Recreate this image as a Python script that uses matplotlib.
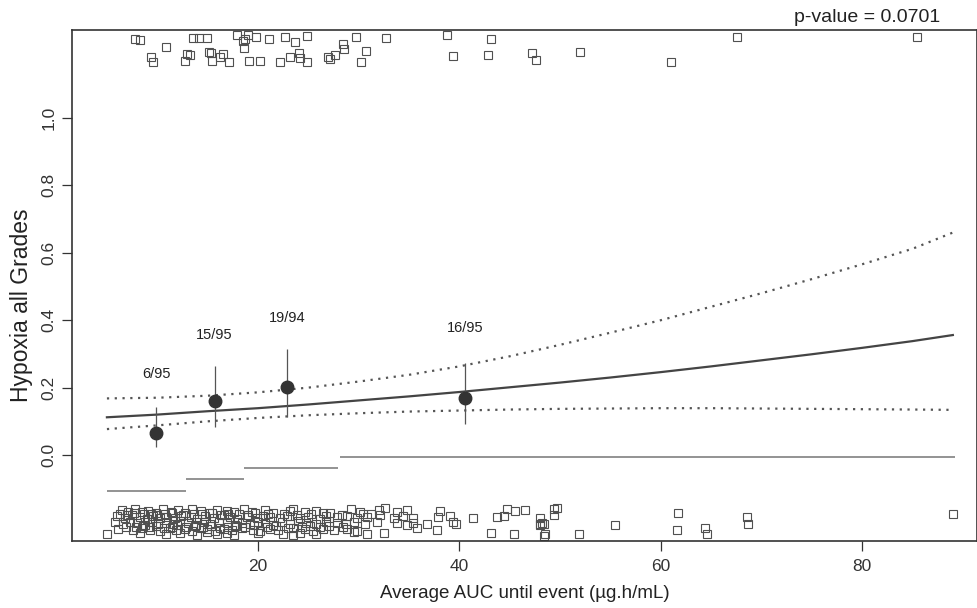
import matplotlib
matplotlib.use("Agg")
import matplotlib.pyplot as plt

plt.rcParams['font.family'] = ['Liberation Sans', 'DejaVu Sans']

# fitted logistic curve and its confidence band
curve_x = [5, 10, 15, 20, 25, 30, 35, 40, 45, 50, 55, 60, 65, 70, 75, 80, 85, 89]
fit_p = [0.112, 0.120, 0.130, 0.139, 0.150, 0.162, 0.174, 0.187, 0.201, 0.215,
         0.230, 0.246, 0.263, 0.281, 0.299, 0.318, 0.338, 0.356]
upper_p = [0.168, 0.170, 0.176, 0.186, 0.200, 0.218, 0.238, 0.263, 0.293, 0.327,
           0.363, 0.400, 0.440, 0.480, 0.522, 0.566, 0.612, 0.660]
lower_p = [0.077, 0.088, 0.100, 0.110, 0.118, 0.124, 0.129, 0.132, 0.135, 0.137,
           0.138, 0.139, 0.139, 0.138, 0.137, 0.136, 0.135, 0.134]

# observed proportion per quartile
bin_x = [9.9, 15.7, 22.9, 40.6]
bin_p = [0.066, 0.160, 0.203, 0.169]
bin_lo = [0.024, 0.083, 0.113, 0.092]
bin_hi = [0.142, 0.264, 0.315, 0.273]
bin_text = ["6/95", "15/95", "19/94", "16/95"]
label_y = [0.240, 0.356, 0.407, 0.377]

# quartile ranges
seg_start = [5.0, 12.9, 18.6, 28.1]
seg_end = [12.9, 18.6, 27.9, 89.2]
seg_y = [-0.107, -0.072, -0.039, -0.006]

# patients with event (jittered at top)
event_x = [7.8, 8.3, 10.9, 9.4, 9.6, 13.5, 14.1, 14.9, 13.0, 13.2, 12.8, 15.1, 15.3,
           15.4, 16.2, 16.5, 17.1, 17.9, 18.5, 19.0, 18.7, 19.8, 18.6, 21.1, 22.7,
           23.7, 24.9, 19.1, 20.2, 22.2, 23.2, 24.1, 24.2, 24.9, 27.0, 27.2, 27.6,
           28.4, 28.5, 29.7, 30.7, 30.2, 32.7, 38.8, 39.4, 43.1, 42.8, 47.2, 47.6,
           52.0, 61.0, 67.6, 85.4]
event_y = [1.234, 1.231, 1.211, 1.181, 1.166, 1.237, 1.237, 1.237, 1.190, 1.187,
           1.169, 1.196, 1.193, 1.169, 1.181, 1.190, 1.166, 1.246, 1.228, 1.246,
           1.234, 1.240, 1.208, 1.234, 1.240, 1.226, 1.243, 1.169, 1.169, 1.166,
           1.181, 1.193, 1.178, 1.166, 1.181, 1.175, 1.187, 1.220, 1.205, 1.240,
           1.199, 1.166, 1.237, 1.246, 1.184, 1.234, 1.187, 1.193, 1.172, 1.196,
           1.166, 1.240, 1.240]

# patients without event (jittered at bottom)
noevent_x = [
    6.5, 7.1, 7.8, 8.5, 9.1, 9.9, 10.6, 11.4, 12.1, 12.8, 13.4, 14.3, 15.1, 15.9,
    16.9, 17.6, 18.6, 19.4, 20.7, 21.5, 23.2, 23.5, 24.7, 25.8, 27.2, 29.2, 30.1,
    32.0, 32.6, 33.8, 34.8, 38.1, 44.7, 45.5, 46.5, 49.4,
    6.0, 6.8, 7.5, 8.3, 9.0, 9.6, 10.3, 10.9, 11.8, 12.4, 13.3, 13.9, 14.7, 15.6,
    16.6, 17.2, 17.9, 18.9, 19.9, 20.5, 21.2, 22.2, 22.9, 24.2, 25.0, 26.2, 26.8,
    27.8, 28.8, 29.8, 30.8, 32.1, 33.5, 34.4, 35.4, 37.9, 39.1, 41.4, 43.7, 44.4, 48.0,
    5.8, 6.6, 7.3, 8.0, 8.8, 9.5, 10.1, 10.9, 11.6, 12.3, 13.1, 13.8, 14.6, 15.2,
    16.1, 16.9, 17.7, 18.4, 19.2, 20.0, 20.7, 21.5, 22.4, 23.2, 24.0, 24.8, 25.8,
    26.8, 27.8, 28.7, 29.5, 30.6, 31.8, 33.8, 34.8, 35.4, 36.8, 39.4, 39.7, 48.0,
    6.1, 7.6, 8.5, 9.3, 10.3, 11.3, 11.9, 12.8, 13.4, 14.3, 14.9, 15.7, 16.6, 17.4,
    18.4, 19.5, 20.2, 21.2, 22.0, 23.5, 24.7, 25.5, 26.5, 27.5, 28.8, 29.8, 35.8, 37.8,
    5.0, 8.3, 10.9, 12.3, 13.9, 14.9, 15.9, 16.9, 17.6, 20.0, 22.5, 23.5, 24.2,
    25.8, 29.5, 30.8, 32.5, 43.1, 45.4, 48.5,
    6.3, 7.0, 7.7, 8.7, 9.4, 10.0, 10.8, 11.5, 12.6, 13.6, 14.4, 15.4, 16.3, 17.0,
    18.1, 19.0, 19.7, 21.0, 22.6, 23.9, 25.3, 26.5, 28.3, 30.4, 31.2,
    6.9, 7.9, 8.6, 9.2, 9.9, 10.7, 11.5, 12.0, 12.9, 13.7, 14.5, 15.3, 16.2, 17.0,
    17.8, 18.7, 19.6, 20.9, 21.8, 23.0, 24.4, 25.2, 26.2, 27.1, 28.4,
    49.7, 49.4, 48.2, 48.0, 48.4, 48.4, 51.9, 55.5, 61.7, 61.6, 64.4, 64.6, 68.6,
    68.7, 89.0]
noevent_y = [
    -0.163, -0.170, -0.160, -0.168, -0.165, -0.172, -0.161, -0.169, -0.164, -0.171,
    -0.160, -0.167, -0.173, -0.162, -0.166, -0.170, -0.159, -0.168, -0.163, -0.171,
    -0.165, -0.160, -0.169, -0.166, -0.172, -0.161, -0.168, -0.164, -0.158, -0.170,
    -0.162, -0.167, -0.160, -0.166, -0.163, -0.159,
    -0.182, -0.187, -0.179, -0.185, -0.190, -0.181, -0.186, -0.183, -0.188, -0.180,
    -0.184, -0.189, -0.182, -0.186, -0.179, -0.185, -0.191, -0.183, -0.187, -0.180,
    -0.184, -0.188, -0.181, -0.186, -0.183, -0.189, -0.180, -0.185, -0.182, -0.187,
    -0.184, -0.179, -0.186, -0.182, -0.188, -0.185, -0.181, -0.187, -0.183, -0.180,
    -0.186,
    -0.200, -0.205, -0.198, -0.203, -0.208, -0.199, -0.204, -0.201, -0.206, -0.197,
    -0.202, -0.207, -0.200, -0.204, -0.198, -0.203, -0.209, -0.201, -0.205, -0.199,
    -0.202, -0.207, -0.200, -0.204, -0.197, -0.203, -0.206, -0.199, -0.202, -0.205,
    -0.200, -0.204, -0.198, -0.203, -0.207, -0.201, -0.205, -0.199, -0.204, -0.206,
    -0.218, -0.223, -0.216, -0.221, -0.225, -0.217, -0.222, -0.219, -0.224, -0.216,
    -0.220, -0.225, -0.218, -0.222, -0.217, -0.221, -0.226, -0.219, -0.223, -0.216,
    -0.220, -0.224, -0.218, -0.222, -0.219, -0.225, -0.217, -0.221,
    -0.233, -0.230, -0.235, -0.231, -0.236, -0.229, -0.234, -0.232, -0.237, -0.230,
    -0.233, -0.236, -0.231, -0.234, -0.229, -0.235, -0.232, -0.230, -0.234, -0.233,
    -0.175, -0.177, -0.173, -0.176, -0.174, -0.178, -0.175, -0.172, -0.177, -0.174,
    -0.176, -0.173, -0.178, -0.175, -0.174, -0.177, -0.172, -0.176, -0.174, -0.178,
    -0.175, -0.173, -0.177, -0.174, -0.176,
    -0.212, -0.214, -0.210, -0.213, -0.211, -0.215, -0.212, -0.209, -0.214, -0.211,
    -0.213, -0.210, -0.215, -0.212, -0.211, -0.214, -0.209, -0.213, -0.211, -0.215,
    -0.212, -0.210, -0.214, -0.211, -0.213,
    -0.157, -0.178, -0.202, -0.208, -0.205, -0.240, -0.234, -0.208, -0.172, -0.223,
    -0.217, -0.234, -0.184, -0.205, -0.175]

x_ticks = [20, 40, 60, 80]
y_ticks = [0.0, 0.2, 0.4, 0.6, 0.8, 1.0]

fig = plt.figure(figsize=(9.78, 6.08), dpi=100)
ax = fig.add_axes([0.0736, 0.1102, 0.9254, 0.8405])

sq = dict(marker='s', linestyle='none', markersize=5.5, markerfacecolor='none',
          markeredgecolor='#505050', markeredgewidth=0.8)
ax.plot(event_x, event_y, **sq)
ax.plot(noevent_x, noevent_y, **sq)

ax.plot(curve_x, fit_p, color='#444444', lw=1.6)
ax.plot(curve_x, upper_p, color='#555555', lw=1.6, linestyle=(0, (1, 2.5)))
ax.plot(curve_x, lower_p, color='#555555', lw=1.6, linestyle=(0, (1, 2.5)))

ax.hlines(seg_y, seg_start, seg_end, color='#8a8a8a', lw=1.3)

ax.vlines(bin_x, bin_lo, bin_hi, color='#555555', lw=0.9)
ax.plot(bin_x, bin_p, 'o', color='#333333', markersize=9)
for xx, yy, t in zip(bin_x, label_y, bin_text):
    ax.text(xx, yy, t, ha='center', va='center', fontsize=10.5, color='#222222')

ax.set_xlim(1.53, 91.4)
ax.set_ylim(-0.255, 1.261)
ax.set_xticks(x_ticks)
ax.set_yticks(y_ticks)
ax.set_yticklabels(["0.0", "0.2", "0.4", "0.6", "0.8", "1.0"], rotation=90, va='center')
ax.tick_params(direction='out', length=7, width=0.9, colors='#333333', labelsize=12.5)
ax.tick_params(axis='y', pad=4)
ax.tick_params(axis='x', pad=6)
for s in ax.spines.values():
    s.set_color('#333333')
    s.set_linewidth(1.2)

ax.set_xlabel("Average AUC until event (µg.h/mL)", fontsize=13.5, color='#222222', labelpad=8)
ax.set_ylabel("Hypoxia all Grades", fontsize=16.5, color='#222222')
ax.yaxis.set_label_coords(-0.043, 0.462)

fig.text(0.961, 0.985, "p-value = 0.0701", ha='right', va='top', fontsize=14, color='#222222')

fig.savefig("out.png", dpi=100)
